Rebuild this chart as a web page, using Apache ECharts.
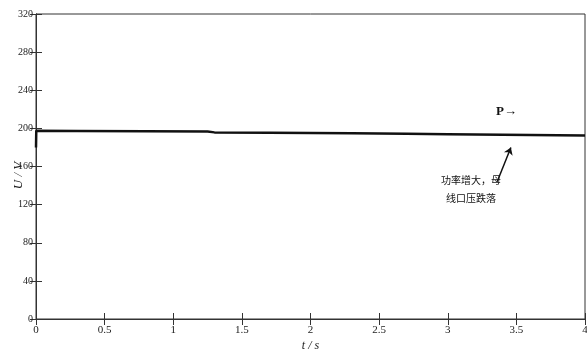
<!DOCTYPE html>
<html style="height: 100%">
<head>
<meta charset="utf-8">
<script src="https://cdn.jsdelivr.net/npm/echarts@6/dist/echarts.min.js"></script>
</head>
<body style="height: 100%; margin: 0; background: #fff">
<div id="container" style="width: 587px; height: 349px"></div>
<script>
// bus voltage trace
var timeS = [0, 0.002, 0.3, 0.8, 1.25, 1.3, 1.7, 2.0, 2.3, 2.7, 3.0, 3.4, 3.8, 4.0];
var voltage = [180, 197.5, 197.3, 197, 196.6, 195.8, 195.5, 195.1, 194.8, 194.3, 193.9, 193.4, 192.9, 192.6];
var xTicks = ['0', '0.5', '1', '1.5', '2', '2.5', '3', '3.5', '4'];
var yTicks = ['0', '40', '80', '120', '160', '200', '240', '280', '320'];

var seriesData = timeS.map(function (t, i) { return [t, voltage[i]]; });
var font = 'Liberation Serif';

var dom = document.getElementById('container');
var myChart = echarts.init(dom);

var tickStyle = { show: true, inside: true, length: 6, lineStyle: { color: '#333', width: 1 } };

var option = {
    animation: false,
    grid: { left: 36, right: 2, top: 14, bottom: 30, show: true, borderColor: '#333', borderWidth: 1,
            containLabel: false, outerBoundsMode: 'none' },
    xAxis: [{
        type: 'value', min: 0, max: 4, interval: 0.5,
        axisLine: { show: true, lineStyle: { color: '#333' } },
        axisTick: tickStyle,
        splitLine: { show: false },
        axisLabel: {
            color: '#222', fontFamily: font, fontSize: 11, margin: 6,
            formatter: function (v) { return xTicks[Math.round(v * 2)]; }
        },
        name: 't / s', nameLocation: 'middle', nameGap: 21, nameMoveOverlap: false,
        nameTextStyle: { color: '#222', fontFamily: font, fontSize: 12, fontStyle: 'italic' }
    }, {
        type: 'value', min: 0, max: 4, interval: 0.5, position: 'top',
        axisLine: { show: true, lineStyle: { color: '#333' } },
        axisTick: tickStyle, axisLabel: { show: false }, splitLine: { show: false }
    }],
    yAxis: [{
        type: 'value', min: 0, max: 320, interval: 40,
        axisLine: { show: true, lineStyle: { color: '#333' } },
        axisTick: tickStyle,
        splitLine: { show: false },
        axisLabel: {
            color: '#222', fontFamily: font, fontSize: 10, margin: 3,
            formatter: function (v) { return yTicks[Math.round(v / 40)]; }
        },
        name: 'U / V', nameLocation: 'middle', nameGap: 11, nameRotate: 90, nameMoveOverlap: false,
        nameTextStyle: { color: '#222', fontFamily: font, fontSize: 13, fontStyle: 'italic', padding: [0, 18, 0, 0] }
    }, {
        type: 'value', min: 0, max: 320, interval: 40, position: 'right',
        axisLine: { show: true, lineStyle: { color: '#333' } },
        axisTick: tickStyle, axisLabel: { show: false }, splitLine: { show: false }
    }],
    series: [{
        type: 'line',
        data: seriesData,
        showSymbol: false,
        lineStyle: { color: '#111', width: 2.5 },
        markLine: {
            silent: true,
            symbol: ['none', 'arrow'],
            symbolSize: 7,
            label: { show: false },
            lineStyle: { color: '#111', width: 1.5, type: 'solid' },
            data: [[{ coord: [3.36, 144] }, { coord: [3.46, 180] }]]
        }
    }],
    graphic: [{
        type: 'text', left: 496, top: 105,
        style: { text: 'P→', fontFamily: font, fontSize: 13, fontWeight: 'bold', fill: '#111' }
    }, {
        type: 'text', left: 441, top: 175,
        style: { text: '功率增大，母', fontFamily: 'Noto Sans CJK SC', fontSize: 10, fill: '#111' }
    }, {
        type: 'text', left: 446, top: 193,
        style: { text: '线口压跌落', fontFamily: 'Noto Sans CJK SC', fontSize: 10, fill: '#111' }
    }]
};

myChart.setOption(option);
</script>
</body>
</html>
